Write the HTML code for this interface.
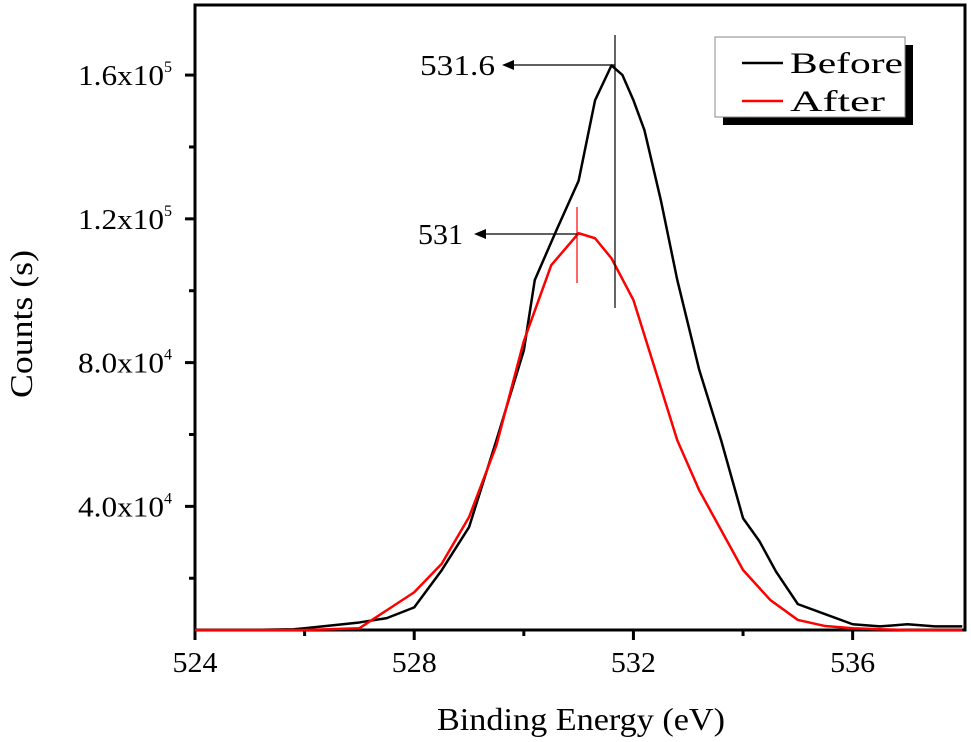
<!DOCTYPE html>
<html><head><meta charset="utf-8"><style>
body{margin:0;background:#fff;}
svg{display:block;font-family:"Liberation Serif",serif;}
</style></head><body>
<svg id="chart" width="971" height="742">
<g id="plot"></g>
<g>
<line x1="615" y1="35" x2="615" y2="308" stroke="#000" stroke-width="1.2"/>
<line x1="615" y1="65" x2="512" y2="65" stroke="#000" stroke-width="1.2"/>
<polygon points="502,65 514,60 514,70" fill="#000"/>
<text x="420" y="75" font-size="29" textLength="75" lengthAdjust="spacingAndGlyphs">531.6</text>
<line x1="577" y1="207" x2="577" y2="283" stroke="#f00" stroke-width="1.2"/>
<line x1="577" y1="234" x2="484" y2="234" stroke="#000" stroke-width="1.2"/>
<polygon points="474,234 486,229 486,239" fill="#000"/>
<text x="418" y="244" font-size="29" textLength="45" lengthAdjust="spacingAndGlyphs">531</text>
</g>
<g>
<rect x="723" y="45" width="190" height="80" fill="#000"/>
<rect x="715" y="37" width="190" height="80" fill="#fff" stroke="#888" stroke-width="1"/>
<line x1="742" y1="63" x2="783" y2="63" stroke="#000" stroke-width="2.5"/>
<text x="790" y="73" font-size="30" textLength="113" lengthAdjust="spacingAndGlyphs">Before</text>
<line x1="742" y1="101" x2="783" y2="101" stroke="#f00" stroke-width="2.5"/>
<text x="790" y="111" font-size="30" textLength="95" lengthAdjust="spacingAndGlyphs">After</text>
</g>
<text x="437" y="730" font-size="32" textLength="288" lengthAdjust="spacingAndGlyphs">Binding Energy (eV)</text>
<text transform="translate(32,398) rotate(-90)" font-size="32" textLength="148" lengthAdjust="spacingAndGlyphs">Counts (s)</text>
</svg>
<script>
const xTicks=[524,528,532,536];
const xMinor=[526,530,534];
const yTicks=[40000,80000,120000,160000];
const yTickLabels=[["4.0x10","4"],["8.0x10","4"],["1.2x10","5"],["1.6x10","5"]];
const yMinor=[20000,60000,100000,140000];
const beforeX=[524,525,525.8,526,526.5,527,527.5,528,528.5,529,529.5,530,530.2,530.6,531,531.3,531.6,531.8,532,532.2,532.5,532.8,533.2,533.6,534,534.3,534.6,535,535.5,536,536.5,537,537.5,538];
const beforeY=[5600,5600,5800,6100,6900,7700,8900,11900,22200,34200,58400,83400,103000,117000,130600,153000,162700,160000,153000,144700,125200,103000,78000,58400,36700,30300,21900,12800,10000,7200,6600,7200,6600,6600];
const afterX=[524,526,527,527.5,528,528.5,529,529.5,530,530.5,531,531.3,531.6,532,532.4,532.8,533.2,533.6,534,534.5,535,535.5,536,536.5,537,538];
const afterY=[5600,5600,6100,11100,16100,24000,37000,57000,86000,107100,116000,114600,109000,97400,77900,58400,44500,33400,22300,13900,8400,6700,6100,5800,5600,5600];
const X0=195,X1=965,Y0=630,Y1=5;
const xmin=524,xmax=538.05,ymin=5600,ymax=179500;
const sx=v=>X0+(v-xmin)/(xmax-xmin)*(X1-X0);
const sy=v=>Y0-(v-ymin)/(ymax-ymin)*(Y0-Y1);
const g=document.getElementById('plot');
const NS="http://www.w3.org/2000/svg";
function mk(tag,attrs,parent){const e=document.createElementNS(NS,tag);for(const k in attrs)e.setAttribute(k,attrs[k]);(parent||g).appendChild(e);return e;}
let fr=mk('rect',{x:X0,y:Y1,width:X1-X0,height:Y0-Y1,fill:'none',stroke:'#000','stroke-width':3});


xTicks.forEach(v=>{
  let t=mk('line',{x1:sx(v),x2:sx(v),y1:Y0,y2:Y0+10,stroke:'#000','stroke-width':3});
  
  
  let l=mk('text',{x:sx(v),y:672,'text-anchor':'middle','font-size':29,textLength:45,lengthAdjust:'spacingAndGlyphs'});l.textContent=v;
  
  
});
xMinor.forEach(v=>{
  let t=mk('line',{x1:sx(v),x2:sx(v),y1:Y0,y2:Y0+6,stroke:'#000','stroke-width':3});
  
  
});
yTicks.forEach((v,i)=>{
  let t=mk('line',{x1:X0-10,x2:X0,y1:sy(v),y2:sy(v),stroke:'#000','stroke-width':3});
  
  
  let l=mk('text',{x:78,y:sy(v)+10,'font-size':29});
  
  
  let a=mk('tspan',{textLength:86,lengthAdjust:'spacingAndGlyphs'},l);a.textContent=yTickLabels[i][0];
  let s=mk('tspan',{dy:-13,'font-size':16},l);s.textContent=yTickLabels[i][1];
});
yMinor.forEach(v=>{
  let t=mk('line',{x1:X0-6,x2:X0,y1:sy(v),y2:sy(v),stroke:'#000','stroke-width':3});
  
  
});
function line(xs,ys,col,name){
  const p=mk('polyline',{points:xs.map((x,i)=>sx(x)+','+sy(ys[i])).join(' '),fill:'none',stroke:col,'stroke-width':2.5,'stroke-linejoin':'round'});
  
  
}
line(beforeX,beforeY,'#000','before-series');
line(afterX,afterY,'#f00','after-series');
</script>
</body></html>
